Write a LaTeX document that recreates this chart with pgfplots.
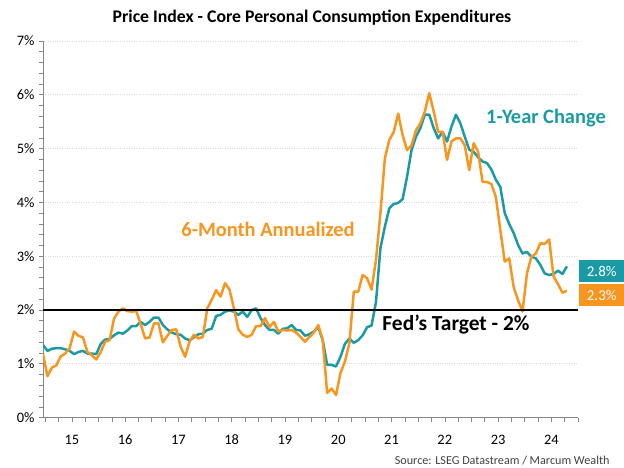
\documentclass[border=0pt]{standalone}
\usepackage{pgfplots}
\pgfplotsset{compat=1.18}
\usepackage{pgfplotstable}
\usepackage{fontspec}
\setmainfont{Carlito}
\definecolor{teal1}{HTML}{1A9AA5}
\definecolor{orng}{HTML}{F7951E}
\definecolor{axgray}{HTML}{868686}
\definecolor{gridgray}{HTML}{D9D9D9}
\definecolor{srcgray}{HTML}{404040}
\pgfplotstableread{
m v
0 1.35
1 1.24
2 1.28
3 1.29
4 1.29
5 1.27
6 1.24
7 1.18
8 1.22
9 1.24
10 1.19
11 1.19
12 1.18
13 1.37
14 1.45
15 1.46
16 1.53
17 1.58
18 1.56
19 1.62
20 1.70
21 1.70
22 1.78
23 1.72
24 1.78
25 1.86
26 1.86
27 1.72
28 1.64
29 1.58
30 1.55
31 1.54
32 1.47
33 1.44
34 1.49
35 1.55
36 1.56
37 1.63
38 1.65
39 1.89
40 1.91
41 1.97
42 1.99
43 1.97
44 1.91
45 1.97
46 1.87
47 2.00
48 2.03
49 1.85
50 1.72
51 1.63
52 1.63
53 1.56
54 1.65
55 1.66
56 1.72
57 1.63
58 1.62
59 1.52
60 1.55
61 1.60
62 1.68
63 1.44
64 0.98
65 0.98
66 0.95
67 1.13
68 1.37
69 1.47
70 1.39
71 1.44
72 1.53
73 1.68
74 1.71
75 2.15
76 3.15
77 3.55
78 3.89
79 3.97
80 3.99
81 4.06
82 4.48
83 4.97
84 5.22
85 5.38
86 5.63
87 5.63
88 5.38
89 5.19
90 5.31
91 5.13
92 5.41
93 5.63
94 5.47
95 5.22
96 4.98
97 4.94
98 4.84
99 4.76
100 4.73
101 4.61
102 4.42
103 4.29
104 3.80
105 3.60
106 3.43
107 3.21
108 3.05
109 3.08
110 2.99
111 2.96
112 2.84
113 2.68
114 2.65
115 2.67
116 2.73
117 2.67
118 2.81
}\oneyear
\pgfplotstableread{
m v
0 1.19
1 0.77
2 0.93
3 0.97
4 1.14
5 1.19
6 1.29
7 1.60
8 1.52
9 1.49
10 1.22
11 1.16
12 1.08
13 1.22
14 1.41
15 1.44
16 1.84
17 1.97
18 2.03
19 1.98
20 1.97
21 1.98
22 1.74
23 1.47
24 1.49
25 1.75
26 1.75
27 1.40
28 1.52
29 1.63
30 1.64
31 1.32
32 1.13
33 1.41
34 1.54
35 1.47
36 1.50
37 2.03
38 2.19
39 2.37
40 2.25
41 2.50
42 2.38
43 2.03
44 1.64
45 1.54
46 1.50
47 1.54
48 1.70
49 1.70
50 1.85
51 1.68
52 1.78
53 1.60
54 1.63
55 1.62
56 1.63
57 1.58
58 1.50
59 1.41
60 1.50
61 1.58
62 1.72
63 1.44
64 0.46
65 0.54
66 0.42
67 0.83
68 1.04
69 1.38
70 2.34
71 2.34
72 2.65
73 2.59
74 2.38
75 2.93
76 3.80
77 4.82
78 5.16
79 5.31
80 5.65
81 5.25
82 4.97
83 5.06
84 5.34
85 5.47
86 5.69
87 6.03
88 5.69
89 5.31
90 5.31
91 4.79
92 5.13
93 5.19
94 5.19
95 5.06
96 4.60
97 5.10
98 4.94
99 4.38
100 4.38
101 4.34
102 4.10
103 3.49
104 2.90
105 2.96
106 2.43
107 2.18
108 1.97
109 2.68
110 2.99
111 3.05
112 3.24
113 3.23
114 3.31
115 2.62
116 2.48
117 2.32
118 2.36
}\sixmonth
\begin{document}
\begin{tikzpicture}[x=1bp,y=1bp]
\path[use as bounding box] (0,0) rectangle (624,468);
\begin{axis}[
  at={(43bp,50.4bp)}, anchor=south west, scale only axis,
  width=535bp, height=376.6bp,
  xmin=0, xmax=120.5, ymin=0, ymax=7,
  axis x line*=bottom, axis y line*=left,
  axis line style={draw=axgray, line width=0.8pt, -},
  xtick={6.5,18.5,...,114.5},
  xticklabels={15,16,17,18,19,20,21,22,23,24},
  minor xtick={0.5,3.5,...,120.5},
  ytick={0,1,2,3,4,5,6,7},
  yticklabels={0\%,1\%,2\%,3\%,4\%,5\%,6\%,7\%},
  minor y tick num=4,
  tick align=outside,
  major tick length=4bp, minor tick length=4bp,
  every tick/.style={draw=axgray, line width=0.6pt},
  ymajorgrids,
  major grid style={draw=gridgray, dotted, line width=0.7pt},
  tick label style={font=\fontsize{14.5}{15}\selectfont, text=black},
  /pgf/number format/assume math mode=true,
  xticklabel style={yshift=-10bp},
  yticklabel style={xshift=-1bp},
]
\addplot[teal1, line width=2.5pt, line join=round, no markers] table[x=m, y=v] {\oneyear};
\addplot[orng, line width=2.5pt, line join=round, no markers] table[x=m, y=v] {\sixmonth};
\addplot[black, line width=2.6pt, no markers] coordinates {(0,2) (120.5,2)};
\end{axis}
\node[font=\bfseries\fontsize{17.8}{20}\selectfont] at (312,450.5) {Price Index - Core Personal Consumption Expenditures};
\node[font=\bfseries\fontsize{20.5}{22}\selectfont, text=teal1] at (546,350) {1-Year Change};
\node[font=\bfseries\fontsize{20.5}{22}\selectfont, text=orng] at (268,239) {6-Month Annualized};
\node[font=\bfseries\fontsize{21.5}{23}\selectfont] at (456,143) {Fed's Target - 2\%};
\node[anchor=east, font=\fontsize{12.2}{14}\selectfont, text=srcgray] at (613,7.5) {Source: LSEG Datastream / Marcum Wealth};
\node[anchor=west, fill=teal1, text=white, minimum width=45bp, minimum height=22bp, inner sep=0pt, font=\fontsize{15}{15}\selectfont] at (579,197) {2.8\%};
\node[anchor=west, fill=orng, text=white, minimum width=45bp, minimum height=22bp, inner sep=0pt, font=\fontsize{15}{15}\selectfont] at (579,173) {2.3\%};
\end{tikzpicture}
\end{document}
